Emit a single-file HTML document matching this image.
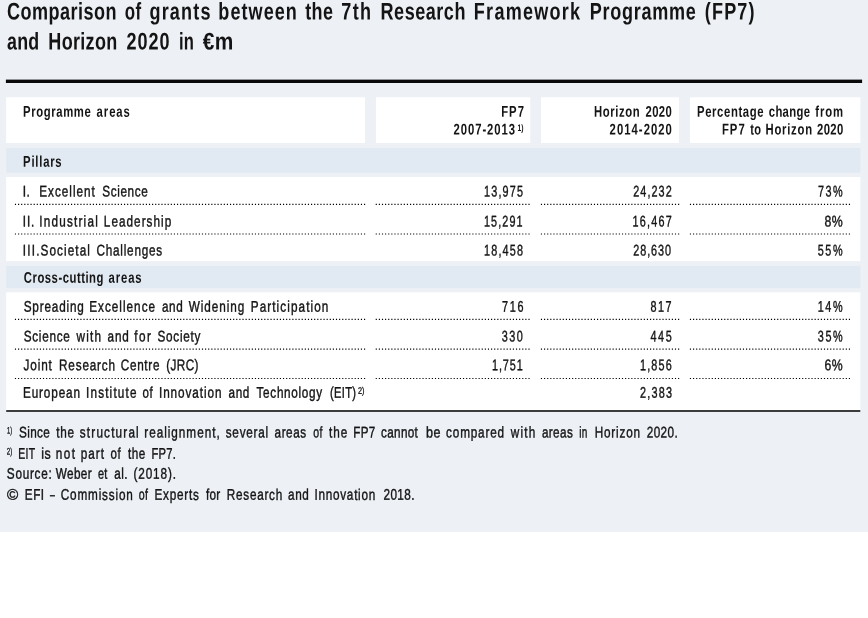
<!DOCTYPE html><html lang="en"><head><meta charset="utf-8"><title>Comparison of grants between FP7 and Horizon 2020</title><style>
html,body{margin:0;padding:0;}
body{width:868px;height:618px;position:relative;overflow:hidden;background:#fff;font-family:"Liberation Sans",sans-serif;color:#141414;}
#fig{position:absolute;left:0;top:0;width:868px;height:532px;background:#edf1f6;}
.x{position:absolute;white-space:nowrap;line-height:1;display:block;transform-origin:0 0;}
.t{font-size:24.1px;font-weight:700;}
.h{font-size:15.5px;font-weight:700;}
.b{font-size:15.5px;font-weight:400;-webkit-text-stroke:0.4px #141414;}
.hs{font-size:9.4px;font-weight:700;}
.bs{font-size:9.4px;font-weight:400;-webkit-text-stroke:0.3px #141414;}
.n{font-size:15.5px;font-weight:400;-webkit-text-stroke:0.4px #141414;}
</style></head><body><div id="fig">
<svg id="boxes" width="868" height="532" viewBox="0 0 868 532" style="position:absolute;left:0;top:0" aria-hidden="true">
<rect x="5.9" y="79.6" width="856.2" height="3.4" fill="#0a0a0a"/>
<rect x="6.2" y="97.3" width="358.8" height="45.7" fill="#fff"/>
<rect x="376.0" y="97.3" width="154.2" height="45.7" fill="#fff"/>
<rect x="541.1" y="97.3" width="137.9" height="45.7" fill="#fff"/>
<rect x="689.9" y="97.3" width="170.4" height="45.7" fill="#fff"/>
<rect x="6.2" y="148.0" width="854.1" height="24.8" fill="#e1e9f2"/>
<rect x="6.2" y="177.0" width="854.1" height="84.1" fill="#fff"/>
<rect x="6.2" y="265.9" width="854.1" height="22.1" fill="#e1e9f2"/>
<rect x="6.2" y="292.4" width="854.1" height="118.1" fill="#fff"/>
<rect x="6.2" y="410.0" width="854.1" height="2.0" fill="#3c3c3c"/>
<line x1="14.9" y1="204.3" x2="365.3" y2="204.3" stroke="#000" stroke-width="1.2" stroke-dasharray="1.15 1.967"/>
<line x1="375.7" y1="204.3" x2="530.4" y2="204.3" stroke="#000" stroke-width="1.2" stroke-dasharray="1.15 1.967"/>
<line x1="540.9" y1="204.3" x2="679.2" y2="204.3" stroke="#000" stroke-width="1.2" stroke-dasharray="1.15 1.967"/>
<line x1="689.9" y1="204.3" x2="850.4" y2="204.3" stroke="#000" stroke-width="1.2" stroke-dasharray="1.15 1.967"/>
<line x1="14.9" y1="234.0" x2="365.3" y2="234.0" stroke="#000" stroke-width="1.2" stroke-dasharray="1.15 1.967"/>
<line x1="375.7" y1="234.0" x2="530.4" y2="234.0" stroke="#000" stroke-width="1.2" stroke-dasharray="1.15 1.967"/>
<line x1="540.9" y1="234.0" x2="679.2" y2="234.0" stroke="#000" stroke-width="1.2" stroke-dasharray="1.15 1.967"/>
<line x1="689.9" y1="234.0" x2="850.4" y2="234.0" stroke="#000" stroke-width="1.2" stroke-dasharray="1.15 1.967"/>
<line x1="14.9" y1="319.4" x2="365.3" y2="319.4" stroke="#000" stroke-width="1.2" stroke-dasharray="1.15 1.967"/>
<line x1="375.7" y1="319.4" x2="530.4" y2="319.4" stroke="#000" stroke-width="1.2" stroke-dasharray="1.15 1.967"/>
<line x1="540.9" y1="319.4" x2="679.2" y2="319.4" stroke="#000" stroke-width="1.2" stroke-dasharray="1.15 1.967"/>
<line x1="689.9" y1="319.4" x2="850.4" y2="319.4" stroke="#000" stroke-width="1.2" stroke-dasharray="1.15 1.967"/>
<line x1="14.9" y1="349.1" x2="365.3" y2="349.1" stroke="#000" stroke-width="1.2" stroke-dasharray="1.15 1.967"/>
<line x1="375.7" y1="349.1" x2="530.4" y2="349.1" stroke="#000" stroke-width="1.2" stroke-dasharray="1.15 1.967"/>
<line x1="540.9" y1="349.1" x2="679.2" y2="349.1" stroke="#000" stroke-width="1.2" stroke-dasharray="1.15 1.967"/>
<line x1="689.9" y1="349.1" x2="850.4" y2="349.1" stroke="#000" stroke-width="1.2" stroke-dasharray="1.15 1.967"/>
<line x1="14.9" y1="378.5" x2="365.3" y2="378.5" stroke="#000" stroke-width="1.2" stroke-dasharray="1.15 1.967"/>
<line x1="375.7" y1="378.5" x2="530.4" y2="378.5" stroke="#000" stroke-width="1.2" stroke-dasharray="1.15 1.967"/>
<line x1="540.9" y1="378.5" x2="679.2" y2="378.5" stroke="#000" stroke-width="1.2" stroke-dasharray="1.15 1.967"/>
<line x1="689.9" y1="378.5" x2="850.4" y2="378.5" stroke="#000" stroke-width="1.2" stroke-dasharray="1.15 1.967"/>
</svg>
<div class="grp">
<span class="x t" style="left:6px;top:-1px;letter-spacing:0.625px;transform:matrix(0.7500,0.0005,0.0005,1,0.90,0.55)">Comparison</span>
<span class="x t" style="left:124px;top:-1px;letter-spacing:0.500px;transform:matrix(0.7020,0.0005,0.0005,1,0.80,0.55)">of</span>
<span class="x t" style="left:149px;top:-1px;letter-spacing:1.593px;transform:matrix(0.7500,0.0005,0.0005,1,0.40,0.55)">grants</span>
<span class="x t" style="left:218px;top:-1px;letter-spacing:1.375px;transform:matrix(0.7500,0.0005,0.0005,1,0.35,0.55)">between</span>
<span class="x t" style="left:305px;top:-1px;letter-spacing:0.400px;transform:matrix(0.7471,0.0005,0.0005,1,0.30,0.55)">the</span>
<span class="x t" style="left:341px;top:-1px;letter-spacing:1.855px;transform:matrix(0.7500,0.0005,0.0005,1,0.25,0.55)">7th</span>
<span class="x t" style="left:380px;top:-1px;letter-spacing:0.670px;transform:matrix(0.7500,0.0005,0.0005,1,0.55,0.55)">Research</span>
<span class="x t" style="left:473px;top:-1px;letter-spacing:1.631px;transform:matrix(0.7500,0.0005,0.0005,1,0.85,0.55)">Framework</span>
<span class="x t" style="left:589px;top:-1px;letter-spacing:0.954px;transform:matrix(0.7500,0.0005,0.0005,1,0.65,0.55)">Programme</span>
<span class="x t" style="left:704px;top:-1px;letter-spacing:1.481px;transform:matrix(0.7500,0.0005,0.0005,1,0.85,0.55)">(FP7)</span>
</div>
<div class="grp">
<span class="x t" style="left:6px;top:29px;letter-spacing:0.400px;transform:matrix(0.7410,0.0005,0.0005,1,0.90,0.55)">and</span>
<span class="x t" style="left:48px;top:29px;letter-spacing:0.400px;transform:matrix(0.7482,0.0005,0.0005,1,0.35,0.55)">Horizon</span>
<span class="x t" style="left:126px;top:29px;letter-spacing:1.245px;transform:matrix(0.7500,0.0005,0.0005,1,0.50,0.55)">2020</span>
<span class="x t" style="left:178px;top:29px;letter-spacing:0.500px;transform:matrix(0.6883,0.0005,0.0005,1,0.91,0.55)">in</span>
<span class="x t" style="left:202px;top:29px;letter-spacing:0.500px;transform:matrix(0.8673,0.0005,0.0005,1,0.80,0.55)">€m</span>
</div>
<div class="grp">
<span class="x h" style="left:23px;top:103px;letter-spacing:0.834px;word-spacing:-0.500px;transform:matrix(0.7300,0.0005,0.0005,1,0.07,0.75)">Programme</span>
<span class="x h" style="left:96px;top:103px;letter-spacing:1.260px;word-spacing:-0.500px;transform:matrix(0.7300,0.0005,0.0005,1,0.60,0.75)">areas</span>
</div>
<span class="x h" style="left:501px;top:103px;letter-spacing:1.391px;word-spacing:-0.500px;transform:matrix(0.7300,0.0005,0.0005,1,0.17,0.75)">FP7</span>
<span class="x h" style="left:453px;top:121px;letter-spacing:1.235px;word-spacing:-0.500px;transform:matrix(0.7300,0.0005,0.0005,1,0.60,0.55)">2007-2013</span>
<span class="x hs" style="left:517px;top:122px;transform:matrix(0.7183,0.0005,0.0005,1,0.60,1.00)">1)</span>
<div class="grp">
<span class="x h" style="left:593px;top:103px;letter-spacing:0.859px;word-spacing:-0.500px;transform:matrix(0.7300,0.0005,0.0005,1,0.87,0.75)">Horizon</span>
<span class="x h" style="left:645px;top:103px;letter-spacing:0.585px;word-spacing:-0.500px;transform:matrix(0.7300,0.0005,0.0005,1,0.40,0.75)">2020</span>
</div>
<span class="x h" style="left:609px;top:121px;letter-spacing:1.394px;word-spacing:-0.500px;transform:matrix(0.7300,0.0005,0.0005,1,0.60,0.55)">2014-2020</span>
<div class="grp">
<span class="x h" style="left:696px;top:103px;letter-spacing:0.844px;word-spacing:-0.500px;transform:matrix(0.7300,0.0005,0.0005,1,0.97,0.75)">Percentage</span>
<span class="x h" style="left:768px;top:103px;letter-spacing:0.414px;word-spacing:-0.500px;transform:matrix(0.7300,0.0005,0.0005,1,0.80,0.75)">change</span>
<span class="x h" style="left:815px;top:103px;letter-spacing:1.200px;word-spacing:-0.500px;transform:matrix(0.7300,0.0005,0.0005,1,0.30,0.75)">from</span>
</div>
<div class="grp">
<span class="x h" style="left:721px;top:121px;letter-spacing:1.460px;word-spacing:-0.500px;transform:matrix(0.7300,0.0005,0.0005,1,0.87,0.55)">FP7</span>
<span class="x h" style="left:750px;top:121px;letter-spacing:0.500px;transform:matrix(0.7162,0.0005,0.0005,1,0.30,0.55)">to</span>
<span class="x h" style="left:765px;top:121px;letter-spacing:1.018px;word-spacing:-0.500px;transform:matrix(0.7300,0.0005,0.0005,1,0.47,0.55)">Horizon</span>
<span class="x h" style="left:817px;top:121px;letter-spacing:0.448px;word-spacing:-0.500px;transform:matrix(0.7300,0.0005,0.0005,1,0.10,0.55)">2020</span>
</div>
<span class="x h" style="left:23px;top:153px;letter-spacing:1.054px;word-spacing:-0.500px;transform:matrix(0.7300,0.0005,0.0005,1,0.07,0.70)">Pillars</span>
<div class="grp">
<span class="x h" style="left:23px;top:269px;letter-spacing:0.696px;word-spacing:-0.500px;transform:matrix(0.7300,0.0005,0.0005,1,0.80,0.75)">Cross-cutting</span>
<span class="x h" style="left:108px;top:269px;letter-spacing:1.191px;word-spacing:-0.500px;transform:matrix(0.7300,0.0005,0.0005,1,0.60,0.75)">areas</span>
</div>
<div class="grp">
<span class="x b" style="left:22px;top:183px;letter-spacing:0.500px;transform:matrix(0.7787,0.0005,0.0005,1,0.72,0.55)">I.</span>
<span class="x b" style="left:39px;top:183px;letter-spacing:1.289px;word-spacing:0.500px;transform:matrix(0.7600,0.0005,0.0005,1,0.24,0.55)">Excellent</span>
<span class="x b" style="left:102px;top:183px;letter-spacing:0.781px;word-spacing:0.500px;transform:matrix(0.7600,0.0005,0.0005,1,0.30,0.55)">Science</span>
</div>
<span class="x n" style="left:483px;top:183px;letter-spacing:1.728px;transform:matrix(0.7000,0.0005,0.0005,1,0.90,0.55)">13,975</span>
<span class="x n" style="left:633px;top:183px;letter-spacing:1.528px;transform:matrix(0.7000,0.0005,0.0005,1,0.20,0.55)">24,232</span>
<span class="x n" style="left:817px;top:183px;letter-spacing:2.165px;transform:matrix(0.7000,0.0005,0.0005,1,0.90,0.55)">73%</span>
<div class="grp">
<span class="x b" style="left:22px;top:213px;letter-spacing:1.141px;word-spacing:0.500px;transform:matrix(0.7600,0.0005,0.0005,1,0.74,0.45)">II.</span>
<span class="x b" style="left:39px;top:213px;letter-spacing:1.564px;word-spacing:0.500px;transform:matrix(0.7600,0.0005,0.0005,1,0.24,0.45)">Industrial</span>
<span class="x b" style="left:103px;top:213px;letter-spacing:1.336px;word-spacing:0.500px;transform:matrix(0.7600,0.0005,0.0005,1,0.84,0.45)">Leadership</span>
</div>
<span class="x n" style="left:483px;top:213px;letter-spacing:1.585px;transform:matrix(0.7000,0.0005,0.0005,1,0.90,0.45)">15,291</span>
<span class="x n" style="left:632px;top:213px;letter-spacing:1.728px;transform:matrix(0.7000,0.0005,0.0005,1,0.50,0.45)">16,467</span>
<span class="x n" style="left:824px;top:213px;letter-spacing:0.500px;transform:matrix(0.7958,0.0005,0.0005,1,0.40,0.45)">8%</span>
<div class="grp">
<span class="x b" style="left:22px;top:242px;letter-spacing:1.650px;word-spacing:0.500px;transform:matrix(0.7600,0.0005,0.0005,1,0.74,0.55)">III.</span>
<span class="x b" style="left:40px;top:242px;letter-spacing:1.378px;word-spacing:0.500px;transform:matrix(0.7600,0.0005,0.0005,1,0.60,0.55)">Societal</span>
<span class="x b" style="left:96px;top:242px;letter-spacing:1.004px;word-spacing:0.500px;transform:matrix(0.7600,0.0005,0.0005,1,0.40,0.55)">Challenges</span>
</div>
<span class="x n" style="left:483px;top:242px;letter-spacing:1.728px;transform:matrix(0.7000,0.0005,0.0005,1,0.90,0.55)">18,458</span>
<span class="x n" style="left:633px;top:242px;letter-spacing:1.328px;transform:matrix(0.7000,0.0005,0.0005,1,0.20,0.55)">28,630</span>
<span class="x n" style="left:817px;top:242px;letter-spacing:2.308px;transform:matrix(0.7000,0.0005,0.0005,1,0.70,0.55)">55%</span>
<div class="grp">
<span class="x b" style="left:23px;top:298px;letter-spacing:1.063px;word-spacing:0.500px;transform:matrix(0.7600,0.0005,0.0005,1,0.70,0.65)">Spreading</span>
<span class="x b" style="left:89px;top:298px;letter-spacing:1.296px;word-spacing:0.500px;transform:matrix(0.7600,0.0005,0.0005,1,0.24,0.65)">Excellence</span>
<span class="x b" style="left:161px;top:298px;letter-spacing:0.735px;word-spacing:0.500px;transform:matrix(0.7600,0.0005,0.0005,1,0.90,0.65)">and</span>
<span class="x b" style="left:188px;top:298px;letter-spacing:1.196px;word-spacing:0.500px;transform:matrix(0.7600,0.0005,0.0005,1,0.80,0.65)">Widening</span>
<span class="x b" style="left:250px;top:298px;letter-spacing:1.404px;word-spacing:0.500px;transform:matrix(0.7600,0.0005,0.0005,1,0.74,0.65)">Participation</span>
</div>
<span class="x n" style="left:502px;top:298px;letter-spacing:2.380px;transform:matrix(0.7000,0.0005,0.0005,1,0.00,0.65)">716</span>
<span class="x n" style="left:650px;top:298px;letter-spacing:2.165px;transform:matrix(0.7000,0.0005,0.0005,1,0.50,0.65)">817</span>
<span class="x n" style="left:817px;top:298px;letter-spacing:2.308px;transform:matrix(0.7000,0.0005,0.0005,1,0.70,0.65)">14%</span>
<div class="grp">
<span class="x b" style="left:23px;top:328px;letter-spacing:0.913px;word-spacing:0.500px;transform:matrix(0.7600,0.0005,0.0005,1,0.70,0.45)">Science</span>
<span class="x b" style="left:76px;top:328px;letter-spacing:1.563px;word-spacing:0.500px;transform:matrix(0.7600,0.0005,0.0005,1,0.56,0.45)">with</span>
<span class="x b" style="left:107px;top:328px;letter-spacing:1.064px;word-spacing:0.500px;transform:matrix(0.7600,0.0005,0.0005,1,0.60,0.45)">and</span>
<span class="x b" style="left:134px;top:328px;letter-spacing:1.958px;word-spacing:0.500px;transform:matrix(0.7600,0.0005,0.0005,1,0.30,0.45)">for</span>
<span class="x b" style="left:157px;top:328px;letter-spacing:0.939px;word-spacing:0.500px;transform:matrix(0.7600,0.0005,0.0005,1,0.50,0.45)">Society</span>
</div>
<span class="x n" style="left:501px;top:328px;letter-spacing:2.022px;transform:matrix(0.7000,0.0005,0.0005,1,0.80,0.45)">330</span>
<span class="x n" style="left:650px;top:328px;letter-spacing:2.237px;transform:matrix(0.7000,0.0005,0.0005,1,0.50,0.45)">445</span>
<span class="x n" style="left:817px;top:328px;letter-spacing:2.237px;transform:matrix(0.7000,0.0005,0.0005,1,0.80,0.45)">35%</span>
<div class="grp">
<span class="x b" style="left:23px;top:357px;letter-spacing:1.181px;word-spacing:0.500px;transform:matrix(0.7600,0.0005,0.0005,1,0.40,0.35)">Joint</span>
<span class="x b" style="left:59px;top:357px;letter-spacing:1.056px;word-spacing:0.500px;transform:matrix(0.7600,0.0005,0.0005,1,0.04,0.35)">Research</span>
<span class="x b" style="left:120px;top:357px;letter-spacing:0.898px;word-spacing:0.500px;transform:matrix(0.7600,0.0005,0.0005,1,0.70,0.35)">Centre</span>
<span class="x b" style="left:166px;top:357px;letter-spacing:0.517px;word-spacing:0.500px;transform:matrix(0.7600,0.0005,0.0005,1,0.20,0.35)">(JRC)</span>
</div>
<span class="x n" style="left:492px;top:357px;letter-spacing:1.280px;transform:matrix(0.7000,0.0005,0.0005,1,0.00,0.35)">1,751</span>
<span class="x n" style="left:640px;top:357px;letter-spacing:1.637px;transform:matrix(0.7000,0.0005,0.0005,1,0.00,0.35)">1,856</span>
<span class="x n" style="left:824px;top:357px;letter-spacing:0.500px;transform:matrix(0.7915,0.0005,0.0005,1,0.50,0.35)">6%</span>
<div class="grp">
<span class="x b" style="left:22px;top:384px;letter-spacing:1.117px;word-spacing:0.500px;transform:matrix(0.7600,0.0005,0.0005,1,0.94,0.65)">European</span>
<span class="x b" style="left:86px;top:384px;letter-spacing:1.510px;word-spacing:0.500px;transform:matrix(0.7600,0.0005,0.0005,1,0.04,0.65)">Institute</span>
<span class="x b" style="left:142px;top:384px;letter-spacing:0.500px;transform:matrix(0.7436,0.0005,0.0005,1,0.60,0.65)">of</span>
<span class="x b" style="left:158px;top:384px;letter-spacing:1.194px;word-spacing:0.500px;transform:matrix(0.7600,0.0005,0.0005,1,0.94,0.65)">Innovation</span>
<span class="x b" style="left:228px;top:384px;letter-spacing:0.735px;word-spacing:0.500px;transform:matrix(0.7600,0.0005,0.0005,1,0.60,0.65)">and</span>
<span class="x b" style="left:256px;top:384px;letter-spacing:0.894px;word-spacing:0.500px;transform:matrix(0.7600,0.0005,0.0005,1,0.50,0.65)">Technology</span>
<span class="x b" style="left:330px;top:384px;letter-spacing:0.400px;word-spacing:0.500px;transform:matrix(0.7220,0.0005,0.0005,1,0.00,0.65)">(EIT)</span>
</div>
<span class="x n" style="left:639px;top:384px;letter-spacing:1.744px;transform:matrix(0.7000,0.0005,0.0005,1,0.90,0.65)">2,383</span>
<span class="x bs" style="left:358px;top:385px;transform:matrix(0.7792,0.0005,0.0005,1,0.00,0.80)">2)</span>
<span class="x bs" style="left:7px;top:425px;transform:matrix(0.6209,0.0005,0.0005,1,0.10,0.60)">1)</span>
<div class="grp">
<span class="x b" style="left:19px;top:424px;letter-spacing:0.462px;word-spacing:0.500px;transform:matrix(0.7600,0.0005,0.0005,1,0.00,0.55)">Since</span>
<span class="x b" style="left:56px;top:424px;letter-spacing:0.852px;word-spacing:0.500px;transform:matrix(0.7600,0.0005,0.0005,1,0.30,0.55)">the</span>
<span class="x b" style="left:79px;top:424px;letter-spacing:1.534px;word-spacing:0.500px;transform:matrix(0.7600,0.0005,0.0005,1,0.80,0.55)">structural</span>
<span class="x b" style="left:144px;top:424px;letter-spacing:1.271px;word-spacing:0.500px;transform:matrix(0.7600,0.0005,0.0005,1,0.24,0.55)">realignment,</span>
<span class="x b" style="left:225px;top:424px;letter-spacing:0.979px;word-spacing:0.500px;transform:matrix(0.7600,0.0005,0.0005,1,0.70,0.55)">several</span>
<span class="x b" style="left:274px;top:424px;letter-spacing:0.672px;word-spacing:0.500px;transform:matrix(0.7600,0.0005,0.0005,1,0.60,0.55)">areas</span>
<span class="x b" style="left:313px;top:424px;letter-spacing:0.500px;transform:matrix(0.6799,0.0005,0.0005,1,0.20,0.55)">of</span>
<span class="x b" style="left:329px;top:424px;letter-spacing:1.247px;word-spacing:0.500px;transform:matrix(0.7600,0.0005,0.0005,1,0.10,0.55)">the</span>
<span class="x b" style="left:353px;top:424px;letter-spacing:0.400px;word-spacing:0.500px;transform:matrix(0.7534,0.0005,0.0005,1,0.25,0.55)">FP7</span>
<span class="x b" style="left:381px;top:424px;letter-spacing:0.400px;word-spacing:0.500px;transform:matrix(0.7576,0.0005,0.0005,1,0.10,0.55)">cannot</span>
<span class="x b" style="left:425px;top:424px;letter-spacing:0.500px;transform:matrix(0.8126,0.0005,0.0005,1,0.99,0.55)">be</span>
<span class="x b" style="left:446px;top:424px;letter-spacing:1.050px;word-spacing:0.500px;transform:matrix(0.7600,0.0005,0.0005,1,0.10,0.55)">compared</span>
<span class="x b" style="left:510px;top:424px;letter-spacing:1.607px;word-spacing:0.500px;transform:matrix(0.7600,0.0005,0.0005,1,0.66,0.55)">with</span>
<span class="x b" style="left:541px;top:424px;letter-spacing:0.475px;word-spacing:0.500px;transform:matrix(0.7600,0.0005,0.0005,1,0.90,0.55)">areas</span>
<span class="x b" style="left:579px;top:424px;letter-spacing:0.500px;transform:matrix(0.6488,0.0005,0.0005,1,0.25,0.55)">in</span>
<span class="x b" style="left:594px;top:424px;letter-spacing:1.061px;word-spacing:0.500px;transform:matrix(0.7600,0.0005,0.0005,1,0.64,0.55)">Horizon</span>
<span class="x b" style="left:646px;top:424px;letter-spacing:0.531px;word-spacing:0.500px;transform:matrix(0.7600,0.0005,0.0005,1,0.70,0.55)">2020.</span>
</div>
<span class="x bs" style="left:6px;top:446px;transform:matrix(0.6574,0.0005,0.0005,1,0.80,0.60)">2)</span>
<div class="grp">
<span class="x b" style="left:18px;top:445px;letter-spacing:0.400px;word-spacing:0.500px;transform:matrix(0.6750,0.0005,0.0005,1,0.33,0.75)">EIT</span>
<span class="x b" style="left:41px;top:445px;letter-spacing:0.500px;transform:matrix(0.8041,0.0005,0.0005,1,0.20,0.75)">is</span>
<span class="x b" style="left:55px;top:445px;letter-spacing:1.880px;word-spacing:0.500px;transform:matrix(0.7600,0.0005,0.0005,1,0.74,0.75)">not</span>
<span class="x b" style="left:80px;top:445px;letter-spacing:1.375px;word-spacing:0.500px;transform:matrix(0.7600,0.0005,0.0005,1,0.64,0.75)">part</span>
<span class="x b" style="left:110px;top:445px;letter-spacing:0.500px;transform:matrix(0.7436,0.0005,0.0005,1,0.60,0.75)">of</span>
<span class="x b" style="left:128px;top:445px;letter-spacing:0.589px;word-spacing:0.500px;transform:matrix(0.7600,0.0005,0.0005,1,0.10,0.75)">the</span>
<span class="x b" style="left:151px;top:445px;letter-spacing:0.400px;word-spacing:0.500px;transform:matrix(0.7241,0.0005,0.0005,1,0.38,0.75)">FP7.</span>
</div>
<div class="grp">
<span class="x b" style="left:6px;top:465px;letter-spacing:0.964px;word-spacing:0.500px;transform:matrix(0.7600,0.0005,0.0005,1,0.80,0.75)">Source:</span>
<span class="x b" style="left:55px;top:465px;letter-spacing:0.441px;word-spacing:0.500px;transform:matrix(0.7600,0.0005,0.0005,1,0.80,0.75)">Weber</span>
<span class="x b" style="left:97px;top:465px;letter-spacing:0.500px;transform:matrix(0.7082,0.0005,0.0005,1,0.90,0.75)">et</span>
<span class="x b" style="left:114px;top:465px;letter-spacing:0.494px;word-spacing:0.500px;transform:matrix(0.7600,0.0005,0.0005,1,0.30,0.75)">al.</span>
<span class="x b" style="left:133px;top:465px;letter-spacing:1.133px;word-spacing:0.500px;transform:matrix(0.7600,0.0005,0.0005,1,0.50,0.75)">(2018).</span>
</div>
<div class="grp">
<span class="x b" style="left:6px;top:486px;transform:matrix(0.9833,0.0005,0.0005,1,0.90,0.85)">©</span>
<span class="x b" style="left:24px;top:486px;letter-spacing:0.610px;word-spacing:0.500px;transform:matrix(0.7600,0.0005,0.0005,1,0.84,0.85)">EFI</span>
<span class="x b" style="left:49px;top:486px;transform:matrix(0.5556,0.0005,0.0005,1,0.90,0.85)">–</span>
<span class="x b" style="left:60px;top:486px;letter-spacing:1.077px;word-spacing:0.500px;transform:matrix(0.7600,0.0005,0.0005,1,0.70,0.85)">Commission</span>
<span class="x b" style="left:138px;top:486px;letter-spacing:0.500px;transform:matrix(0.6870,0.0005,0.0005,1,0.70,0.85)">of</span>
<span class="x b" style="left:154px;top:486px;letter-spacing:0.972px;word-spacing:0.500px;transform:matrix(0.7600,0.0005,0.0005,1,0.44,0.85)">Experts</span>
<span class="x b" style="left:205px;top:486px;letter-spacing:0.400px;word-spacing:0.500px;transform:matrix(0.7583,0.0005,0.0005,1,0.90,0.85)">for</span>
<span class="x b" style="left:226px;top:486px;letter-spacing:0.924px;word-spacing:0.500px;transform:matrix(0.7600,0.0005,0.0005,1,0.84,0.85)">Research</span>
<span class="x b" style="left:288px;top:486px;letter-spacing:0.735px;word-spacing:0.500px;transform:matrix(0.7600,0.0005,0.0005,1,0.10,0.85)">and</span>
<span class="x b" style="left:314px;top:486px;letter-spacing:0.946px;word-spacing:0.500px;transform:matrix(0.7600,0.0005,0.0005,1,0.44,0.85)">Innovation</span>
<span class="x b" style="left:383px;top:486px;letter-spacing:0.432px;word-spacing:0.500px;transform:matrix(0.7600,0.0005,0.0005,1,0.60,0.85)">2018.</span>
</div>
</div></body></html>
